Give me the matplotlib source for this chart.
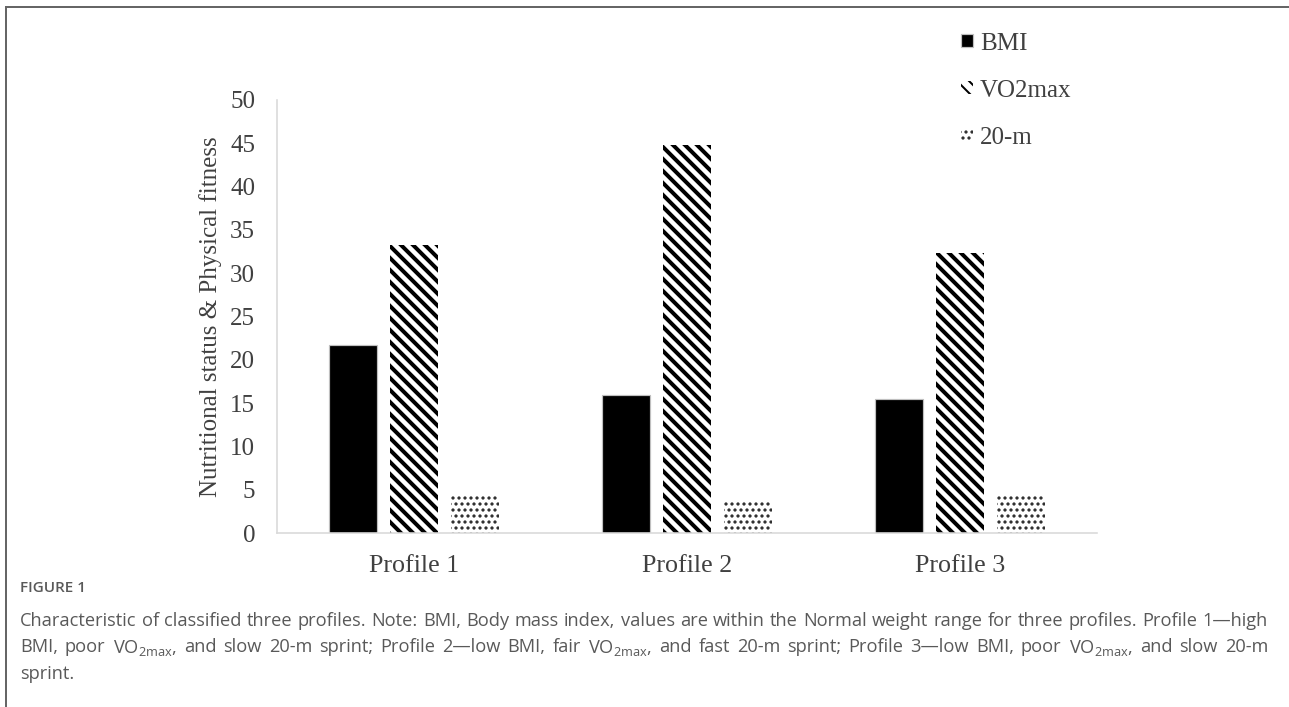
import matplotlib
matplotlib.use('Agg')
import numpy as np
import matplotlib.pyplot as plt
from matplotlib import rcParams
from matplotlib.lines import Line2D

rcParams['font.family'] = 'Liberation Serif'
rcParams['mathtext.fontset'] = 'custom'
rcParams['mathtext.rm'] = 'Open Sans'

profiles = ['Profile 1', 'Profile 2', 'Profile 3']
bmi = [21.7, 15.9, 15.5]
vo2max = [33.3, 44.8, 32.3]
sprint20 = [4.4, 3.8, 4.4]
yticks = list(range(0, 51, 5))

W, H = 1289, 707
dpi = 144
fig = plt.figure(figsize=(W / dpi, H / dpi), dpi=dpi)
ax = fig.add_axes([0.2149, 0.2461, 0.6361, 0.6125])

x = np.arange(len(profiles))
w = 0.176
off = 0.223
txt = '#404040'

b1 = ax.bar(x - off, bmi, w, color='black', edgecolor='#bfbfbf', linewidth=0.6, label='BMI')
with plt.rc_context({'hatch.linewidth': 2.0}):
    b2 = ax.bar(x, vo2max, w, color='white', edgecolor='black', linewidth=0,
                hatch='\\\\\\\\', label='VO2max')
with plt.rc_context({'hatch.linewidth': 1.0}):
    b3 = ax.bar(x + off, sprint20, w, color='white', edgecolor='#222222', linewidth=0,
                hatch='....', label='20-m')
for bars, lw in ((b2, 2.0), (b3, 1.0)):
    for p in bars:
        if hasattr(p, 'set_hatch_linewidth'):
            p.set_hatch_linewidth(lw)

ax.set_xlim(-0.5, 2.5)
ax.set_ylim(0, 50)
ax.set_yticks(yticks)
ax.set_xticks(x)
ax.set_xticklabels(profiles)
ax.tick_params(axis='y', length=0, pad=11, labelsize=12.5, labelcolor=txt)
ax.tick_params(axis='x', length=0, pad=11, labelsize=13, labelcolor=txt)
for s in ['top', 'right']:
    ax.spines[s].set_visible(False)
ax.spines['left'].set_color('#d9d9d9')
ax.spines['bottom'].set_color('#d9d9d9')
ax.spines['left'].set_linewidth(0.8)
ax.spines['bottom'].set_linewidth(0.8)
ax.set_ylabel('Nutritional status & Physical fitness', fontsize=12.5, color=txt, labelpad=4)

leg = fig.legend(handles=[b1, b2, b3], loc='upper left', bbox_to_anchor=(0.738, 0.968),
                 frameon=False, fontsize=12.5, handlelength=0.45, handleheight=0.45,
                 handletextpad=0.3, labelspacing=1.0, borderaxespad=0)
for t in leg.get_texts():
    t.set_color(txt)

# figure frame
fig.add_artist(Line2D([6 / W, 1], [1 - 7 / H, 1 - 7 / H], transform=fig.transFigure,
                      color='#666666', lw=1.0))
fig.add_artist(Line2D([6 / W, 6 / W], [0, 1 - 7 / H], transform=fig.transFigure,
                      color='#666666', lw=1.0))

cap = '#595959'
fig.text(20 / W, 1 - 588 / H, 'FIGURE 1', family='Open Sans', fontsize=7.6,
         fontweight='semibold', color=cap, va='center')
lines = [
    'Characteristic of classified three profiles. Note: BMI, Body mass index, values are within the Normal weight range for three profiles. Profile 1\u2014high',
    'BMI, poor VO$_\\mathregular{2max}$, and slow 20-m sprint; Profile 2\u2014low BMI, fair VO$_\\mathregular{2max}$, and fast 20-m sprint; Profile 3\u2014low BMI, poor VO$_\\mathregular{2max}$, and slow 20-m',
    'sprint.',
]
renderer = fig.canvas.get_renderer()
x0, x1 = 20, 1268
for i, ln in enumerate(lines):
    yy = 1 - (621 + 26.5 * i) / H
    kw = dict(family='Open Sans', fontsize=9.1, color=cap, va='center')
    if i == len(lines) - 1:
        fig.text(x0 / W, yy, ln, **kw)
        continue
    words = ln.split(' ')
    arts = [fig.text(0, yy, wd, **kw) for wd in words]
    widths = [a.get_window_extent(renderer).width for a in arts]
    gap = (x1 - x0 - sum(widths)) / (len(words) - 1)
    pos = x0
    for a, wd in zip(arts, widths):
        a.set_x(pos / W)
        pos += wd + gap

fig.savefig('out.png', dpi=dpi)
